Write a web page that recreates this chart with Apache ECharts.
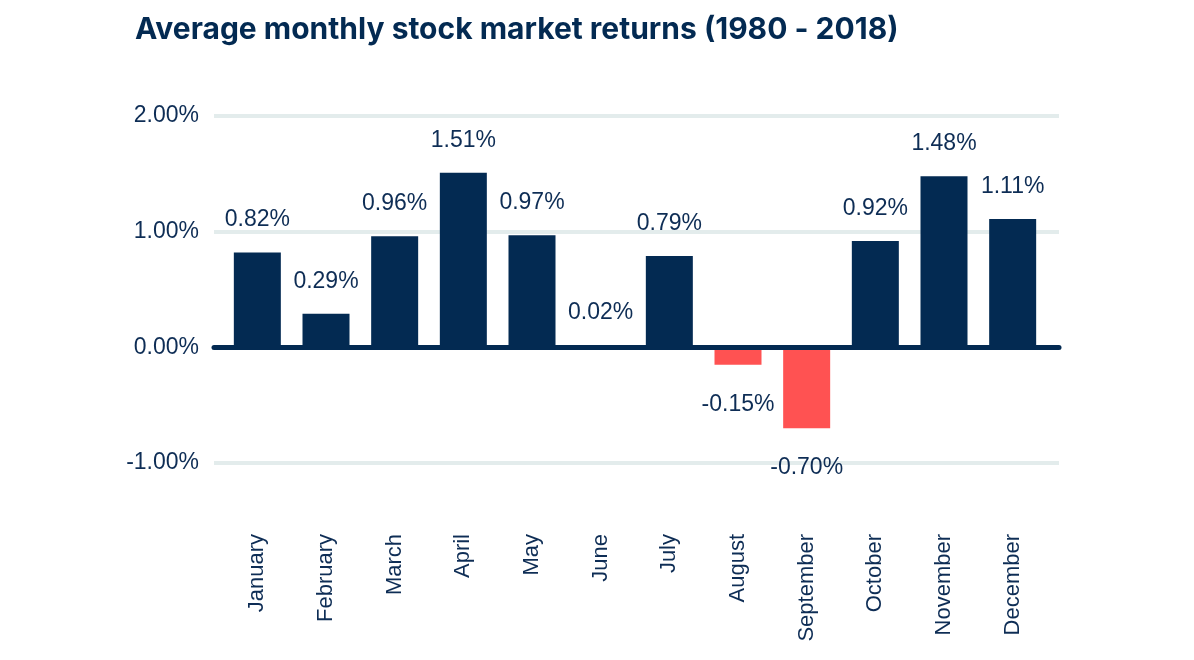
<!DOCTYPE html>
<html>
<head>
<meta charset="utf-8">
<script src="https://cdn.jsdelivr.net/npm/echarts@6/dist/echarts.min.js"></script>
<style>html,body{margin:0;padding:0;background:#fff}#c{width:1194px;height:660px}</style>
</head>
<body>
<div id="c"></div>
<script>
const months = ['January','February','March','April','May','June','July','August','September','October','November','December'];
const returns = [0.82, 0.29, 0.96, 1.51, 0.97, 0.02, 0.79, -0.15, -0.70, 0.92, 1.48, 1.11];
const yTicks = [-1, 0, 1, 2];

const NAVY = '#032a52';
const TEXT = '#0e2d55';
const RED = '#ff5252';
const GRID = '#e3ecec';
const TFONT = 'Inter, "Noto Sans", sans-serif';
const FONT = '"Liberation Sans", Arial, sans-serif';

const chart = echarts.init(document.getElementById('c'), null, {renderer: 'canvas'});
chart.setOption({
  animation: false,
  title: {
    text: 'Average monthly stock market returns (1980 - 2018)',
    left: 130, top: 10,
    textStyle: {fontFamily: TFONT, fontSize: 30, fontWeight: 'bold', color: NAVY}
  },
  grid: [
    {left: 214, right: 135, top: 116, bottom: 197},
    {left: 223, right: 147, top: 116, bottom: 197}
  ],
  xAxis: [
    {gridIndex: 0, type: 'value', min: 0, max: 1, z: 5,
     axisLine: {show: true, onZero: true, lineStyle: {color: NAVY, width: 5}},
     axisTick: {show: false}, axisLabel: {show: false}, splitLine: {show: false}},
    {gridIndex: 1, type: 'category', data: months, position: 'bottom',
     axisLine: {show: false, onZero: false}, axisTick: {show: false},
     axisLabel: {rotate: 90, margin: 71, fontFamily: FONT, fontSize: 22, color: TEXT}}
  ],
  yAxis: [
    {gridIndex: 0, type: 'value', min: yTicks[0], max: yTicks[yTicks.length-1], interval: 1,
     axisLine: {show: false}, axisTick: {show: false},
     axisLabel: {margin: 15, fontFamily: FONT, fontSize: 23, color: TEXT,
       formatter: v => v.toFixed(2) + '%'},
     splitLine: {show: true, lineStyle: {color: GRID, width: 4}}},
    {gridIndex: 1, type: 'value', min: yTicks[0], max: yTicks[yTicks.length-1], interval: 1,
     show: false, splitLine: {show: false}}
  ],
  series: [{
    type: 'bar', xAxisIndex: 1, yAxisIndex: 1, barWidth: 47,
    data: returns.map(v => ({
      value: v,
      itemStyle: {color: v < 0 ? RED : NAVY},
      label: {position: v < 0 ? 'bottom' : 'top', distance: v < 0 ? 28 : 21}
    })),
    label: {show: true, fontFamily: FONT, fontSize: 23, color: TEXT,
      formatter: p => p.value.toFixed(2) + '%'}
  }]
});
</script>
</body>
</html>
